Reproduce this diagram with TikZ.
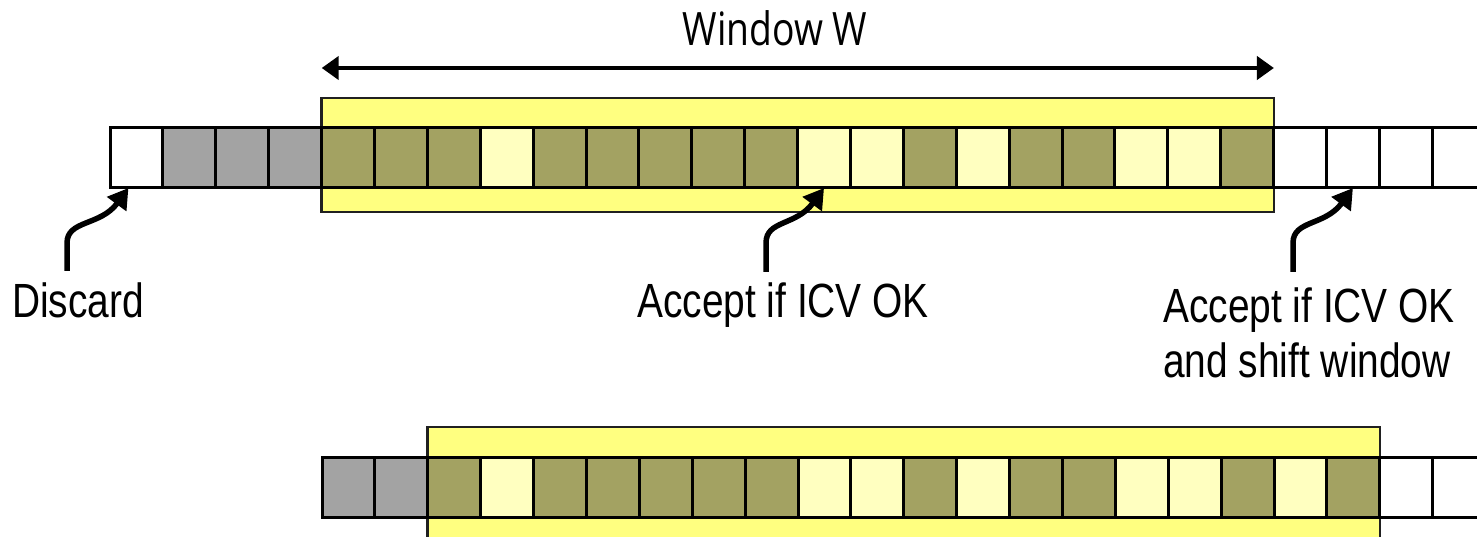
\documentclass[tikz,border=0pt]{standalone}
\usepackage{fontspec}
\setmainfont{Liberation Sans}
\newfontfamily\winfont{Open Sans}
\usetikzlibrary{arrows.meta}

\definecolor{winyellow}{HTML}{FFFF80}
\definecolor{slotdark}{HTML}{A3A262}
\definecolor{slotlight}{HTML}{FFFFC0}
\definecolor{slotgrey}{HTML}{A3A3A3}
\definecolor{winedge}{HTML}{202020}

\tikzset{
  slot/.style={draw=black,line width=3pt,minimum width=52.89pt,minimum height=60pt,
    inner sep=0pt,outer sep=0pt},
  window/.style={draw=winedge,fill=winyellow,line width=2.5pt,minimum width=952.2pt,
    minimum height=114pt,inner sep=0pt,outer sep=0pt},
  label/.style={font=\fontsize{48}{55}\selectfont,inner sep=0pt,align=left},
  curly/.style={line width=5.5pt,-{Triangle[length=20pt,width=23pt]}},
  span/.style={line width=4.5pt,{Triangle[length=17pt,width=23pt]}-{Triangle[length=17pt,width=23pt]}}
}

\begin{document}
\begin{tikzpicture}[x=1pt,y=-1pt]
\useasboundingbox (0,0) rectangle (1477,537);
\clip (0,0) rectangle (1477,537);
%Fenster
	\node[window] (win1) at (797.8,155) {};
	\node[window] (win2) at (903.8,484) {};
%Pakete oben
	\foreach \c [count=\i from 0] in {white,slotgrey,slotgrey,slotgrey,
	  slotdark,slotdark,slotdark,slotlight,slotdark,slotdark,slotdark,slotdark,slotdark,
	  slotlight,slotlight,slotdark,slotlight,slotdark,slotdark,slotlight,slotlight,slotdark,
	  white,white,white,white}{
	  \node[slot,fill=\c] (t\i) at ({110+52.89*(\i+0.5)},158) {};}
%Pakete unten
	\foreach \c [count=\i from 0] in {slotgrey,slotgrey,
	  slotdark,slotlight,slotdark,slotdark,slotdark,slotdark,slotdark,slotlight,slotlight,
	  slotdark,slotlight,slotdark,slotdark,slotlight,slotlight,slotdark,slotlight,slotdark,
	  white,white}{
	  \node[slot,fill=\c] (b\i) at ({322+52.89*(\i+0.5)},487.5) {};}
%Fensterbreite
	\node[font=\winfont\fontsize{46}{50}\selectfont,inner sep=0pt,anchor=base]
	  (wlabel) at (775,46) {\scalebox{0.81}[1]{Window W}};
	\draw[span] ([yshift=30pt]win1.north west) -- ([yshift=30pt]win1.north east);
%Beschriftung
	\node[label,anchor=base west] (discard) at (12,317)
	  {\scalebox{0.81}[1]{Discard}};
	\node[label,anchor=base west] (accept) at (637,317)
	  {\scalebox{0.81}[1]{Accept if ICV OK}};
	\node[label,anchor=base west] (shift) at (1163,377)
	  {\scalebox{0.81}[1]{Accept if ICV OK}\\\scalebox{0.81}[1]{and shift window}};
%Pfeile
	\coordinate (dtail) at (67,271);
	\coordinate (atail) at (766,272);
	\coordinate (stail) at (1293,272);
	\draw[curly] (dtail) -- ++(0,-28)
	  .. controls +(0,-23) and +(-28,38) .. ([xshift=-8pt]t0.south);
	\draw[curly] (atail) -- ++(0,-29)
	  .. controls +(0,-23) and +(-28,38) .. (t13.south);
	\draw[curly] (stail) -- ++(0,-29)
	  .. controls +(0,-23) and +(-28,38) .. (t23.south);
\end{tikzpicture}
\end{document}
